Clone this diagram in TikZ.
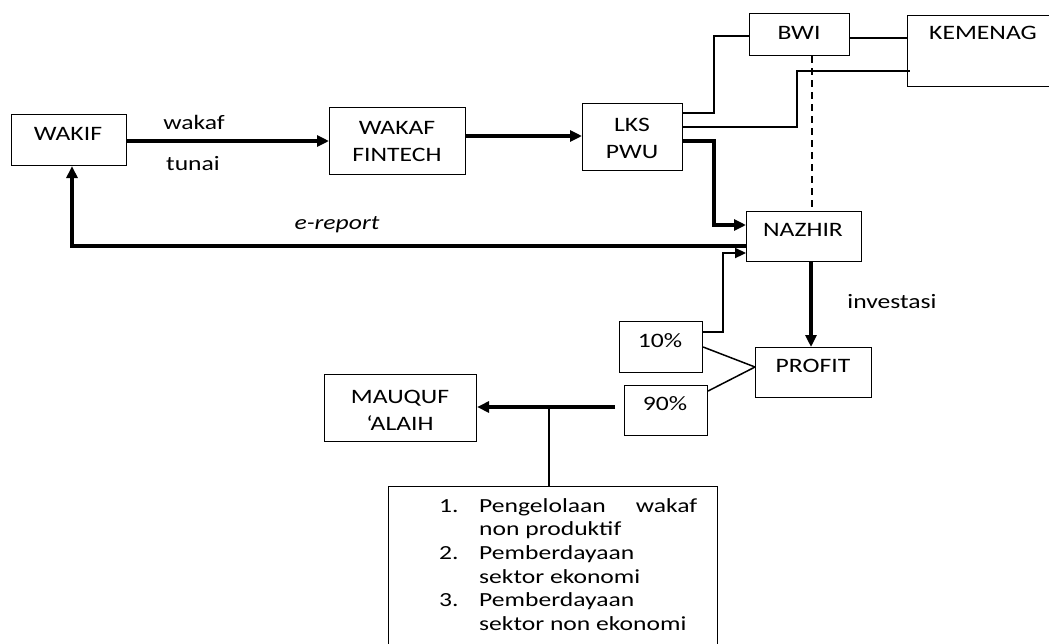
\documentclass[tikz,border=0pt]{standalone}
\usepackage{fontspec}
\setmainfont{Carlito}
\newfontfamily\lblfont[FakeStretch=1.25]{Carlito}
\newfontfamily\listfont[FakeStretch=1.28]{Carlito}
\usetikzlibrary{arrows.meta}
\tikzset{
  box/.style={draw, line width=1.1pt, anchor=north west, inner sep=0pt},
  lbl/.style={font=\lblfont\fontsize{20.5}{27}\selectfont, align=center, inner sep=0pt},
  thin/.style={line width=1.8pt},
  thick/.style={line width=3.2pt, -{Triangle[length=12pt,width=11pt]}},
  medarrow/.style={line width=2.2pt, -{Triangle[length=11pt,width=10pt]}},
  dashline/.style={line width=1.8pt, dash pattern=on 7pt off 5pt},
}
\begin{document}
\begin{tikzpicture}[x=1pt,y=-1pt]
\useasboundingbox (0,0) rectangle (1049,643);
% boxes
\node[box, minimum width=115pt, minimum height=51pt] (wakif) at (11,114) {};
\node[box, minimum width=136pt, minimum height=67pt] (fintech) at (329,107) {};
\node[box, minimum width=100pt, minimum height=67pt] (lks) at (582,103) {};
\node[box, minimum width=100pt, minimum height=42pt] (bwi) at (749,13) {};
\node[box, minimum width=145pt, minimum height=71pt] (kemenag) at (907,15) {};
\node[box, minimum width=115pt, minimum height=50pt] (nazhir) at (746,211) {};
\node[box, minimum width=83pt, minimum height=51pt] (p10) at (619,321) {};
\node[box, minimum width=116pt, minimum height=50pt] (profit) at (755,347) {};
\node[box, minimum width=83pt, minimum height=50pt] (p90) at (624,385) {};
\node[box, minimum width=152pt, minimum height=67pt] (mauquf) at (324,374) {};
\node[box, minimum width=329pt, minimum height=170pt] (list) at (388,486) {};
% labels
\node[lbl] (twakif) at (68,134) {WAKIF};
\node[lbl] (tfintech) at (397,141) {WAKAF\\FINTECH};
\node[lbl] (tlks) at (632,138) {LKS\\PWU};
\node[lbl] (tbwi) at (799,33) {BWI};
\node[lbl] (tkemenag) at (983,33) {KEMENAG};
\node[lbl] (tnazhir) at (803,230) {NAZHIR};
\node[lbl] (tp10) at (660,341) {10\%};
\node[lbl] (tprofit) at (813,366) {PROFIT};
\node[lbl] (tp90) at (665,404) {90\%};
\node[lbl] (tmauquf) at (400,410) {MAUQUF\\‘ALAIH};
\node[lbl] (twakaf) at (194,122) {wakaf};
\node[lbl] (ttunai) at (193,164) {tunai};
\node[lbl] (tinv) at (892,302) {investasi};
\node[lbl, font=\lblfont\itshape\fontsize{20.5}{27}\selectfont] (trep) at (337,225) {e-report};
\node[anchor=base west, inner sep=0pt, font=\listfont\fontsize{20}{23.7}\selectfont] (items) at (439,512)
 {\begin{tabular}[t]{@{}p{40pt}@{}p{218pt}@{}}
 1. & Pengelolaan\hfill wakaf\\
    & non produktif\\
 2. & Pemberdayaan\\
    & sektor ekonomi\\
 3. & Pemberdayaan\\
    & sektor non ekonomi
 \end{tabular}};
% connector helper coordinates
\coordinate (j90) at (615,407);
\coordinate (tee) at (549,407);
% connectors
\draw[thick] (wakif.east |- 0,141) -- (fintech.west |- 0,141);
\draw[thick] (fintech.east |- 0,136) -- (lks.west |- 0,136);
\draw[thin] (lks.east |- 0,113) -- (714,113) -- (714,36) -- (bwi.west |- 0,36);
\draw[thin] (bwi.east |- 0,38) -- (kemenag.west |- 0,38);
\draw[thin] (lks.east |- 0,127) -- (797,127) -- (797,71) -- (910,71);
\draw[dashline] (bwi.south -| 812,0) -- (nazhir.north -| 812,0);
\draw[thick] (lks.east |- 0,141) -- (714,141) -- (714,225) -- (nazhir.west |- 0,225);
\draw[thick] (nazhir.west |- 0,246) -- (72,246) -- (wakif.south -| 72,0);
\draw[medarrow] (p10.east |- 0,332) -- (723,332) -- (723,253) -- (nazhir.west |- 0,253);
\draw[thick] (nazhir.south -| 811,0) -- (profit.north -| 811,0);
\draw[thin, line width=1.5pt] (p10.east |- 0,347) -- (profit.west |- 0,367);
\draw[thin, line width=1.5pt] (p90.east |- 0,391) -- (profit.west |- 0,367);
\draw[thick] (j90) -- (mauquf.east |- j90);
\draw[thin] (tee) -- (list.north -| tee);
\end{tikzpicture}
\end{document}
